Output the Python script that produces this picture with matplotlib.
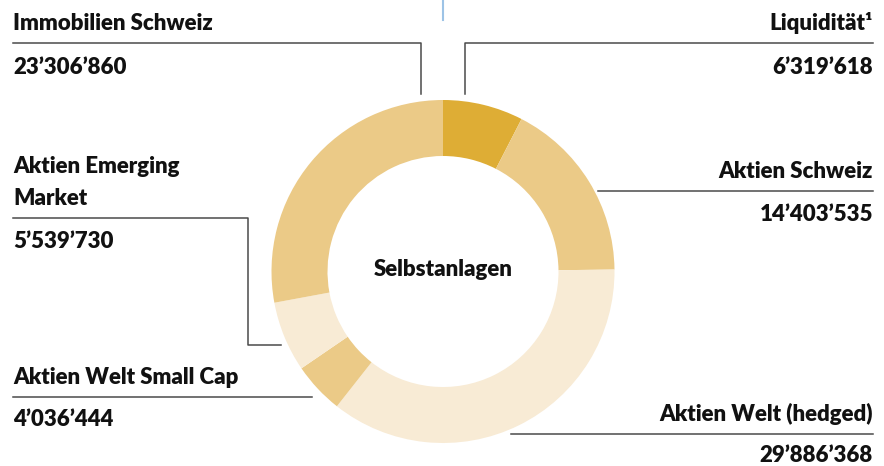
import matplotlib.pyplot as plt

# Data
labels = ["Liquidität¹", "Aktien Schweiz", "Aktien Welt (hedged)",
          "Aktien Welt Small Cap", "Aktien Emerging\nMarket", "Immobilien Schweiz"]
values = [6319618, 14403535, 29886368, 4036444, 5539730, 23306860]
colors = ["#DEAD35", "#EBCA87", "#F8EBD5", "#EBCA87", "#F8EBD5", "#EBCA87"]
center_label = "Selbstanlagen"


def fmt(v):
    return f"{v:,}".replace(",", "’")


plt.rcParams['font.family'] = ['Lato', 'DejaVu Sans']
fig = plt.figure(figsize=(8.84, 4.66), dpi=100)
ax = fig.add_axes([0, 0, 1, 1])

# donut, starting at 12 o'clock, clockwise on screen (y axis runs downward)
cx, cy, r = 443, 271.5, 171.5
ax.pie(values, colors=colors, startangle=-90, counterclock=True,
       center=(cx, cy), radius=r, frame=True,
       wedgeprops=dict(width=56, linewidth=0))
ax.set_xlim(0, 884)
ax.set_ylim(466, 0)
ax.set_aspect('equal')
ax.axis('off')

fw = 'heavy'
fs = 16
tc = '#111111'
ax.text(cx, 276, center_label, ha='center', va='baseline',
        fontsize=fs, fontweight=fw, color=tc)

# small blue marker at the top
ax.plot([443, 443], [0, 20], color='#9DC3E6', lw=1.5)

lc = '#4a4a4a'
lw = 1.1


def label(x, y, s, ha):
    ax.text(x, y, s, ha=ha, va='baseline', fontsize=fs, fontweight=fw, color=tc)


# Immobilien Schweiz (top left)
ax.plot([13, 421, 421], [43, 43, 94], color=lc, lw=lw)
label(13, 30, labels[5], 'left')
label(13, 74, fmt(values[5]), 'left')

# Liquiditaet (top right)
ax.plot([873, 465, 465], [43, 43, 94], color=lc, lw=lw)
label(873, 30, labels[0], 'right')
label(873, 74, fmt(values[0]), 'right')

# Aktien Schweiz
ax.plot([598, 873], [191, 191], color=lc, lw=lw)
label(873, 178, labels[1], 'right')
label(873, 221, fmt(values[1]), 'right')

# Aktien Emerging Market
ax.plot([13, 248, 248, 281], [218, 218, 345, 345], color=lc, lw=lw)
em1, em2 = labels[4].split("\n")
label(13, 173, em1, 'left')
label(13, 205, em2, 'left')
label(13, 248, fmt(values[4]), 'left')

# Aktien Welt Small Cap
ax.plot([13, 312], [397, 397], color=lc, lw=lw)
label(13, 384, labels[3], 'left')
label(13, 426, fmt(values[3]), 'left')

# Aktien Welt (hedged)
ax.plot([511, 873], [434, 434], color=lc, lw=lw)
label(873, 421, labels[2], 'right')
label(873, 462, fmt(values[2]), 'right')

fig.savefig('out.png', dpi=100)
